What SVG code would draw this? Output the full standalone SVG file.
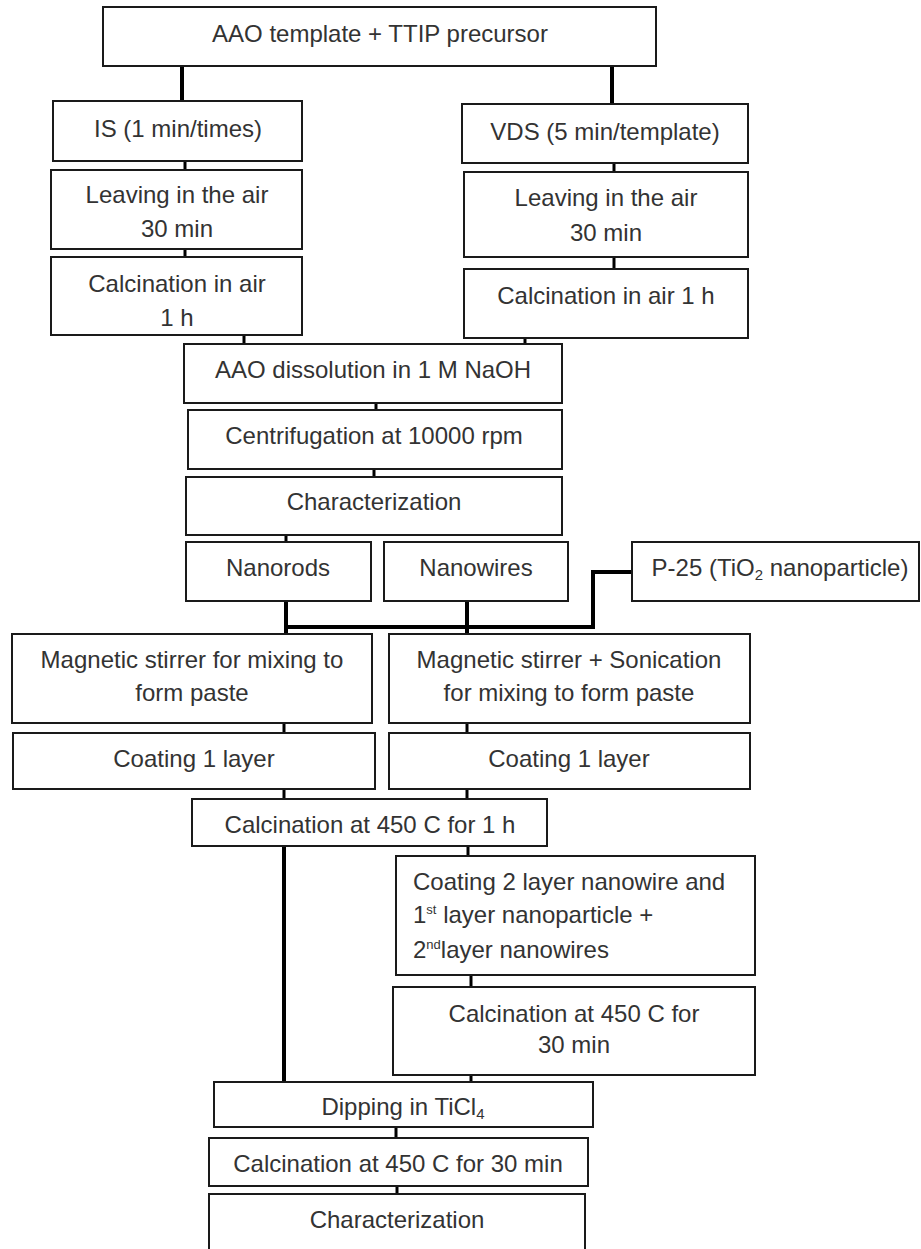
<svg xmlns="http://www.w3.org/2000/svg" width="921" height="1249" viewBox="0 0 921 1249">
<style>
.b{fill:#fff;stroke:#1a1a1a;stroke-width:2}
.t{font-family:"Liberation Sans",Arial,sans-serif;font-size:24px;fill:#333;text-anchor:middle}
.l{text-anchor:start}
.c{stroke:#000;stroke-width:3;fill:none}
.k{stroke:#000;stroke-width:4;fill:none}
</style>
<rect width="921" height="1249" fill="#fff"/>
<g id="connectors">
<line class="k" x1="182" y1="66" x2="182" y2="101"/>
<line class="k" x1="612" y1="66" x2="612" y2="104"/>
<line class="c" x1="185" y1="161" x2="185" y2="170"/>
<line class="c" x1="185" y1="249" x2="185" y2="257"/>
<line class="c" x1="244" y1="335" x2="244" y2="344"/>
<line class="c" x1="614" y1="163" x2="614" y2="172"/>
<line class="c" x1="614" y1="257" x2="614" y2="269"/>
<line class="c" x1="525" y1="338" x2="525" y2="344"/>
<line class="c" x1="376" y1="403" x2="376" y2="410"/>
<line class="c" x1="374" y1="469" x2="374" y2="477"/>
<line class="c" x1="286" y1="535" x2="286" y2="542"/>
<line class="k" x1="286" y1="601" x2="286" y2="634"/>
<line class="k" x1="467" y1="601" x2="467" y2="634"/>
<line class="k" x1="284" y1="627" x2="595" y2="627"/>
<polyline class="k" points="632,572 593,572 593,629"/>
<line class="c" x1="284" y1="723" x2="284" y2="733"/>
<line class="c" x1="467" y1="723" x2="467" y2="733"/>
<line class="c" x1="284" y1="789" x2="284" y2="799"/>
<line class="c" x1="467" y1="789" x2="467" y2="799"/>
<line class="k" x1="284" y1="846" x2="284" y2="1082"/>
<line class="c" x1="468" y1="846" x2="468" y2="856"/>
<line class="c" x1="471" y1="975" x2="471" y2="987"/>
<line class="c" x1="471" y1="1075" x2="471" y2="1082"/>
<line class="c" x1="396" y1="1127" x2="396" y2="1138"/>
<line class="c" x1="397" y1="1186" x2="397" y2="1194"/>
</g>
<g id="n-top"><rect class="b" x="103" y="7" width="553" height="59"/><text class="t" x="380" y="42">AAO template + TTIP precursor</text></g>
<g id="n-is"><rect class="b" x="53" y="101" width="249" height="60"/><text class="t" x="178" y="137">IS (1 min/times)</text></g>
<g id="n-leave-l"><rect class="b" x="51" y="170" width="251" height="79"/><text class="t" x="177" y="203">Leaving in the air</text><text class="t" x="177" y="237">30 min</text></g>
<g id="n-calc-l"><rect class="b" x="51" y="257" width="251" height="78"/><text class="t" x="177" y="292">Calcination in air</text><text class="t" x="177" y="326">1 h</text></g>
<g id="n-vds"><rect class="b" x="462" y="104" width="286" height="59"/><text class="t" x="605" y="140">VDS (5 min/template)</text></g>
<g id="n-leave-r"><rect class="b" x="464" y="172" width="284" height="85"/><text class="t" x="606" y="206">Leaving in the air</text><text class="t" x="606" y="241">30 min</text></g>
<g id="n-calc-r"><rect class="b" x="464" y="269" width="284" height="69"/><text class="t" x="606" y="304">Calcination in air 1 h</text></g>
<g id="n-aao"><rect class="b" x="184" y="344" width="378" height="59"/><text class="t" x="373" y="378">AAO dissolution in 1 M NaOH</text></g>
<g id="n-centri"><rect class="b" x="188" y="410" width="374" height="59"/><text class="t" x="374" y="444">Centrifugation at 10000 rpm</text></g>
<g id="n-char1"><rect class="b" x="186" y="477" width="376" height="58"/><text class="t" x="374" y="510">Characterization</text></g>
<g id="n-rods"><rect class="b" x="186" y="542" width="185" height="59"/><text class="t" x="278" y="576">Nanorods</text></g>
<g id="n-wires"><rect class="b" x="384" y="542" width="184" height="59"/><text class="t" x="476" y="576">Nanowires</text></g>
<g id="n-p25"><rect class="b" x="632" y="542" width="287" height="59"/><text class="t" x="780" y="576">P-25 (TiO<tspan font-size="15" dy="4">2</tspan><tspan dy="-4"> nanoparticle)</tspan></text></g>
<g id="n-mag-l"><rect class="b" x="12" y="634" width="360" height="89"/><text class="t" x="192" y="668">Magnetic stirrer for mixing to</text><text class="t" x="192" y="701">form paste</text></g>
<g id="n-mag-r"><rect class="b" x="389" y="634" width="361" height="89"/><text class="t" x="569" y="668">Magnetic stirrer + Sonication</text><text class="t" x="569" y="701">for mixing to form paste</text></g>
<g id="n-coat-l"><rect class="b" x="13" y="733" width="362" height="56"/><text class="t" x="194" y="767">Coating 1 layer</text></g>
<g id="n-coat-r"><rect class="b" x="389" y="733" width="361" height="56"/><text class="t" x="569" y="767">Coating 1 layer</text></g>
<g id="n-calc1h"><rect class="b" x="192" y="799" width="355" height="47"/><text class="t" x="370" y="833">Calcination at 450 C for 1 h</text></g>
<g id="n-coat2"><rect class="b" x="396" y="856" width="359" height="119"/><text class="t l" x="413" y="890">Coating 2 layer nanowire and</text><text class="t l" x="413" y="923">1<tspan font-size="13" dy="-9">st</tspan><tspan dy="9"> layer nanoparticle +</tspan></text><text class="t l" x="413" y="958">2<tspan font-size="13" dy="-9">nd</tspan><tspan dy="9">layer nanowires</tspan></text></g>
<g id="n-calc30a"><rect class="b" x="393" y="987" width="362" height="88"/><text class="t" x="574" y="1022">Calcination at 450 C for</text><text class="t" x="574" y="1053">30 min</text></g>
<g id="n-dip"><rect class="b" x="214" y="1082" width="379" height="45"/><text class="t" x="403" y="1115">Dipping in TiCl<tspan font-size="15" dy="4">4</tspan></text></g>
<g id="n-calc30b"><rect class="b" x="209" y="1138" width="379" height="48"/><text class="t" x="398" y="1172">Calcination at 450 C for 30 min</text></g>
<g id="n-char2"><rect class="b" x="209" y="1194" width="376" height="70"/><text class="t" x="397" y="1228">Characterization</text></g>
</svg>
